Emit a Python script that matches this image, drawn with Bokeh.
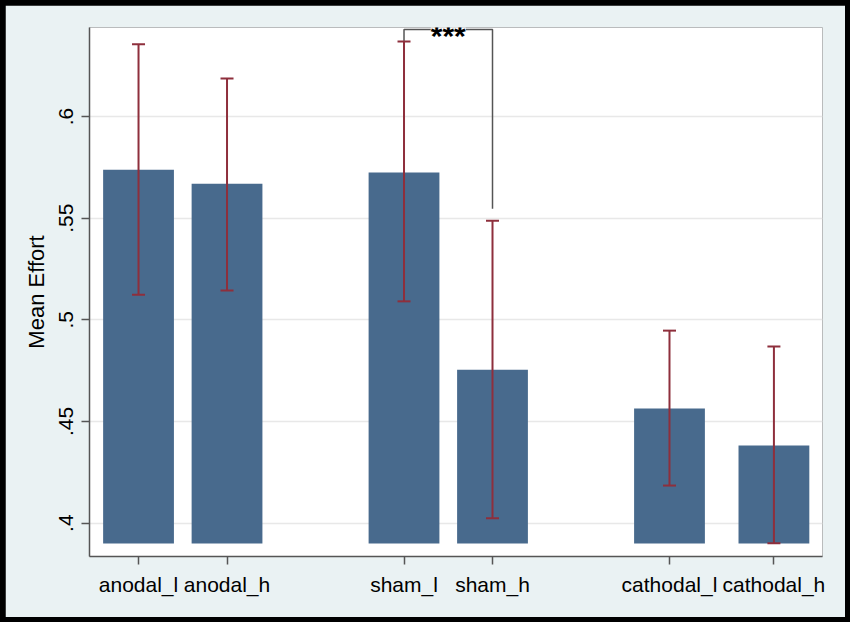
from bokeh.plotting import figure
from bokeh.layouts import column
from bokeh.models import ColumnDataSource, Whisker, TeeHead, FixedTicker, Label, Range1d
from bokeh.embed import file_html
from bokeh.resources import INLINE

categories = ["anodal_l", "anodal_h", "sham_l", "sham_h", "cathodal_l", "cathodal_h"]
positions = [100, 200, 400, 500, 700, 818]
means = [0.5738, 0.5669, 0.5725, 0.4754, 0.4564, 0.4382]
upper = [0.6356, 0.6187, 0.6369, 0.5488, 0.4947, 0.4869]
lower = [0.5124, 0.5144, 0.5091, 0.4024, 0.4185, 0.3901]
y_ticks = [0.4, 0.45, 0.5, 0.55, 0.6]
y_tick_labels = [".4", ".45", ".5", ".55", ".6"]
bar_base = 0.39
bracket_top = 0.6428
bracket_right_end = 0.5547
sig_label = "***"

BAR = "#486a8d"
ERR = "#8e2f3c"
BG = "#eaf2f3"
AX = "#555555"
FONT = "Liberation Sans"

src = ColumnDataSource(dict(x=positions, mean=means, upper=upper, lower=lower))

p = figure(width=840, height=612, output_backend="svg", toolbar_location=None,
           x_range=Range1d(44.6, 872.9), y_range=Range1d(0.3836, 0.6438),
           min_border_left=84, min_border_right=23, min_border_top=22, min_border_bottom=61)
p.border_fill_color = BG
p.background_fill_color = "white"
p.outline_line_color = None

p.vbar(x="x", top="mean", bottom=bar_base, width=80, source=src,
       fill_color=BAR, line_color=None)

w = Whisker(base="x", upper="upper", lower="lower", source=src,
            line_color=ERR, line_width=2, level="overlay",
            upper_head=TeeHead(size=13, line_color=ERR, line_width=2),
            lower_head=TeeHead(size=13, line_color=ERR, line_width=2))
p.add_layout(w)

bx = [positions[2], positions[2], positions[3], positions[3]]
by = [upper[2], bracket_top, bracket_top, bracket_right_end]
p.line(bx, by, line_color=AX, line_width=1.5)
lab = Label(x=(positions[2] + positions[3]) / 2, y=bracket_top, text=sig_label,
            text_align="center", text_baseline="middle", y_offset=-6,
            text_font=FONT, text_font_size="30px", text_font_style="bold",
            text_color="black", background_fill_color="white")
p.add_layout(lab)

# axes
p.xaxis.ticker = FixedTicker(ticks=positions)
p.xaxis.major_label_overrides = {pos: c for pos, c in zip(positions, categories)}
p.yaxis.ticker = FixedTicker(ticks=y_ticks)
p.yaxis.major_label_overrides = {t: l for t, l in zip(y_ticks, y_tick_labels)}
p.yaxis.major_label_orientation = "vertical"
p.yaxis.axis_label = "Mean Effort"
for ax in (p.xaxis[0], p.yaxis[0]):
    ax.axis_line_color = AX
    ax.axis_line_width = 1.5
    ax.major_tick_line_color = AX
    ax.major_tick_line_width = 1.5
    ax.major_tick_out = 8
    ax.major_tick_in = 0
    ax.minor_tick_line_color = None
    ax.major_label_text_font = FONT
    ax.major_label_text_font_size = "21px"
    ax.major_label_text_color = "black"
    ax.major_label_standoff = 8
    ax.axis_label_text_font = FONT
    ax.axis_label_text_font_size = "22px"
    ax.axis_label_text_font_style = "normal"
    ax.axis_label_text_color = "black"
    ax.axis_label_standoff = 8

p.xgrid.grid_line_color = None
p.ygrid.ticker = FixedTicker(ticks=y_ticks)
p.ygrid.grid_line_color = "#e8e8e8"
p.ygrid.grid_line_width = 1.5

page = column(p, width=850, height=622,
              styles={"background-color": "black", "padding": "5px",
                      "box-sizing": "border-box"})

open("out.html", "w").write(file_html(page, INLINE))
